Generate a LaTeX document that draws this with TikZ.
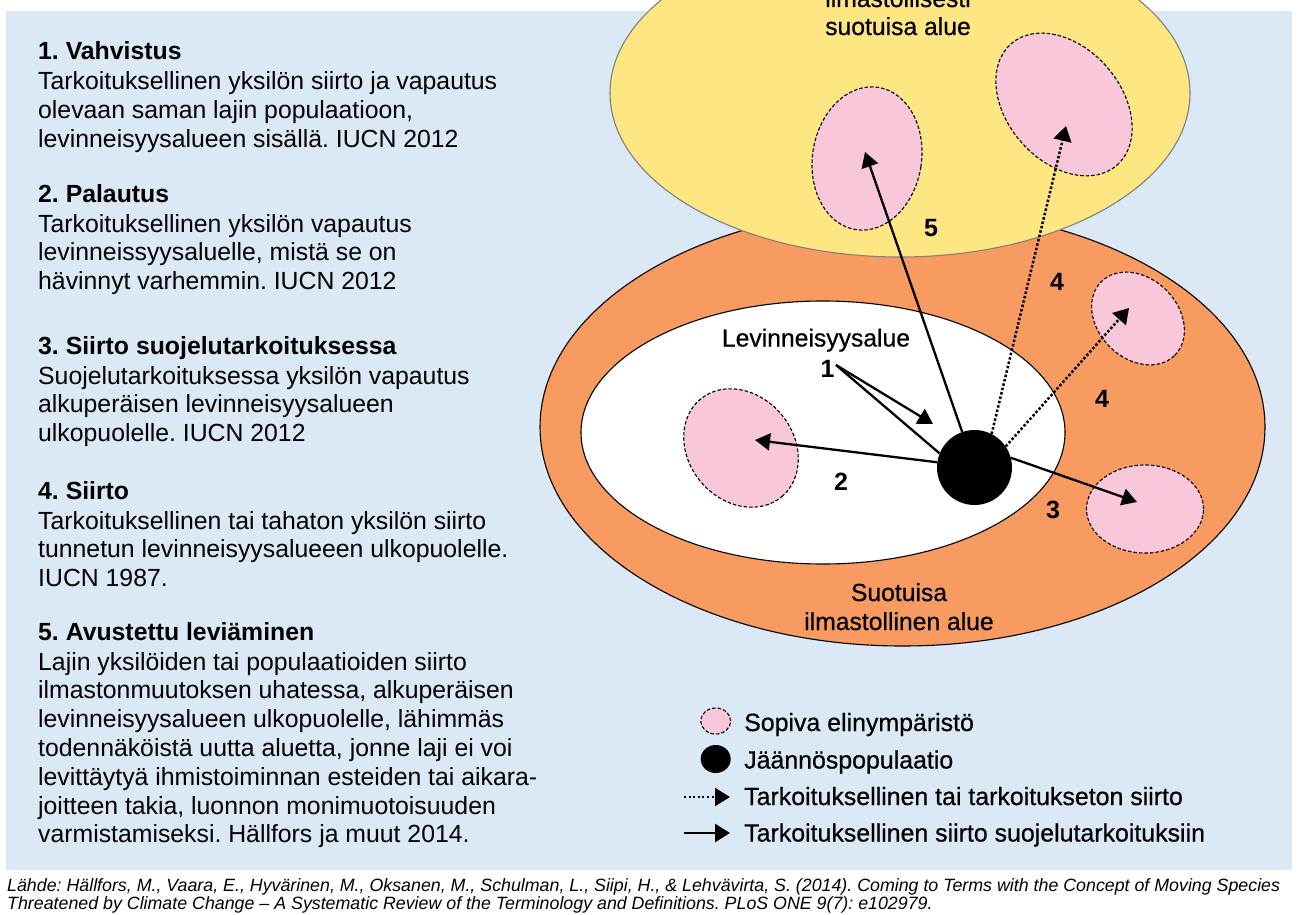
\documentclass[tikz,border=0pt]{standalone}
\usepackage{fontspec}
\setmainfont{Liberation Sans}
\newfontfamily\medfont[FakeBold=0.6]{Liberation Sans}
\usetikzlibrary{shapes.geometric,arrows.meta}
\definecolor{bgblue}{RGB}{219,232,245}
\definecolor{orng}{RGB}{247,155,96}
\definecolor{yllw}{RGB}{254,230,131}
\definecolor{pnk}{RGB}{248,199,218}
\definecolor{yline}{RGB}{128,128,128}
\frenchspacing
\begin{document}
\begin{tikzpicture}[x=1pt,y=-1pt,
  region/.style={ellipse, inner sep=0pt, line width=1.1pt},
  habitat/.style={ellipse, inner sep=0pt, fill=pnk, draw=black, line width=1.1pt, dash pattern=on 3.5pt off 2pt},
  solidarrow/.style={line width=2.3pt, -{Triangle[length=15pt,width=17pt]}},
  plainline/.style={line width=2.3pt},
  dotarrow/.style={line width=2.5pt, dash pattern=on 2.5pt off 2pt, -{Triangle[length=15pt,width=18pt]}},
  legdot/.style={line width=2pt, dash pattern=on 2pt off 2.6pt, -{Triangle[length=15pt,width=18pt]}},
  legsolid/.style={line width=2.6pt, -{Triangle[length=15pt,width=18pt]}},
  para/.style={anchor=base west, inner sep=0pt, font=\fontsize{24.8}{28.8}\selectfont},
  lbl/.style={anchor=base, inner sep=0pt, font=\medfont\fontsize{24.7}{28.5}\selectfont},
  num/.style={anchor=base, inner sep=0pt, font=\bfseries\fontsize{25}{28}\selectfont},
  legtext/.style={anchor=base west, inner sep=0pt, font=\medfont\fontsize{24.9}{28}\selectfont}
]
\useasboundingbox (0,0) rectangle (1298,915);
\fill[bgblue] (6,11) rectangle (1292,870);

% regions
\node[region, fill=orng, draw=black, minimum width=725pt, minimum height=438pt] (fav) at (902.5,427) {};
\node[region, fill=yllw, draw=yline, minimum width=580pt, minimum height=328pt] (clim) at (900,93) {};
\node[region, fill=white, draw=black, minimum width=484pt, minimum height=263pt] (range) at (823,432.5) {};

% suitable habitats
\node[habitat, minimum width=109pt, minimum height=144pt, rotate=-9] (h5) at (867,158.5) {};
\node[habitat, minimum width=161pt, minimum height=114pt, rotate=-49] (h4a) at (1064,104.5) {};
\node[habitat, minimum width=104pt, minimum height=80pt, rotate=-45] (h4b) at (1138,318.5) {};
\node[habitat, minimum width=127pt, minimum height=105pt, rotate=-50] (h2) at (741,448) {};
\node[habitat, minimum width=117pt, minimum height=88pt] (h3) at (1145,509) {};

% remnant population
\node[circle, fill=black, inner sep=0pt, minimum size=75pt] (pop) at (974.5,467.5) {};

% arrow end points
\coordinate (t5) at (865,152);
\coordinate (t4a) at (1066,126);
\coordinate (t4b) at (1129,308);
\coordinate (t3) at (1137,502);
\coordinate (t2) at (755,440);
\coordinate (t1) at (933,424);
\coordinate (s1) at (836,365);

\draw[solidarrow] (pop) -- (t5);
\draw[dotarrow] (pop.63) -- (t4a);
\draw[dotarrow] (pop.34) -- (t4b);
\draw[solidarrow] (pop.15) -- (t3);
\draw[solidarrow] (pop.172) -- (t2);
\draw[solidarrow] (s1) -- (t1);
\draw[plainline] (s1) -- (pop.158);

% diagram labels
\node[lbl] (lclim1) at (898,7) {ilmastollisesti};
\node[lbl] (lclim2) at (898,35) {suotuisa alue};
\node[lbl] (lrange) at (816,346.5) {Levinneisyysalue};
\node[lbl] (lfav1) at (899,601) {Suotuisa};
\node[lbl] (lfav2) at (899,630) {ilmastollinen alue};
\node[num] (n1) at (827.5,377) {1};
\node[num] (n2) at (841,490) {2};
\node[num] (n3) at (1053,518) {3};
\node[num] (n4a) at (1057,290) {4};
\node[num] (n4b) at (1102,407) {4};
\node[num] (n5) at (931,236) {5};

% legend
\node[habitat, minimum width=30pt, minimum height=26pt] (lg1) at (715.7,721) {};
\node[ellipse, fill=black, inner sep=0pt, minimum width=30pt, minimum height=28pt] (lg2) at (715.7,759) {};
\coordinate (lg3a) at (684,797);
\coordinate (lg3b) at (730,797);
\coordinate (lg4a) at (684,833);
\coordinate (lg4b) at (730,833);
\draw[legdot] (lg3a) -- (lg3b);
\draw[legsolid] (lg4a) -- (lg4b);
\node[legtext] (lt1) at (744,731) {Sopiva elinympäristö};
\node[legtext] (lt2) at (744,768.5) {Jäännöspopulaatio};
\node[legtext] (lt3) at (744,805) {Tarkoituksellinen tai tarkoitukseton siirto};
\node[legtext] (lt4) at (744,841.5) {Tarkoituksellinen siirto suojelutarkoituksiin};

% left text
\node[para] (p1) at (38,59.5) {\parbox[t]{560pt}{\textbf{1. Vahvistus}\\[1.2pt]
Tarkoituksellinen yksilön siirto ja vapautus\\
olevaan saman lajin populaatioon,\\
levinneisyysalueen sisällä. IUCN 2012}};
\node[para] (p2) at (38,202) {\parbox[t]{560pt}{\textbf{2. Palautus}\\[1.2pt]
Tarkoituksellinen yksilön vapautus\\
levinneissyysaluelle, mistä se on\\
hävinnyt varhemmin. IUCN 2012}};
\node[para] (p3) at (38,354) {\parbox[t]{560pt}{\textbf{3. Siirto suojelutarkoituksessa}\\[1.2pt]
Suojelutarkoituksessa yksilön vapautus\\
alkuperäisen levinneisyysalueen\\
ulkopuolelle. IUCN 2012}};
\node[para] (p4) at (38,499) {\parbox[t]{560pt}{\textbf{4. Siirto}\\[1.2pt]
Tarkoituksellinen tai tahaton yksilön siirto\\
tunnetun levinneisyysalueeen ulkopuolelle.\\
IUCN 1987.}};
\node[para] (p5) at (38,640) {\parbox[t]{560pt}{\textbf{5. Avustettu leviäminen}\\[1.2pt]
Lajin yksilöiden tai populaatioiden siirto\\
ilmastonmuutoksen uhatessa, alkuperäisen\\
levinneisyysalueen ulkopuolelle, lähimmäs\\
todennäköistä uutta aluetta, jonne laji ei voi\\
levittäytyä ihmistoiminnan esteiden tai aikara-\\
joitteen takia, luonnon monimuotoisuuden\\
varmistamiseksi. Hällfors ja muut 2014.}};

% source
\node[anchor=base west, inner sep=0pt, font=\itshape\fontsize{17.8}{18.7}\selectfont] (src) at (7,891) {\parbox[t]{1320pt}{Lähde: Hällfors, M., Vaara, E., Hyvärinen, M., Oksanen, M., Schulman, L., Siipi, H., \& Lehvävirta, S. (2014). Coming to Terms with the Concept of Moving Species\\
Threatened by Climate Change – A Systematic Review of the Terminology and Definitions. PLoS ONE 9(7): e102979.}};
\end{tikzpicture}
\end{document}
